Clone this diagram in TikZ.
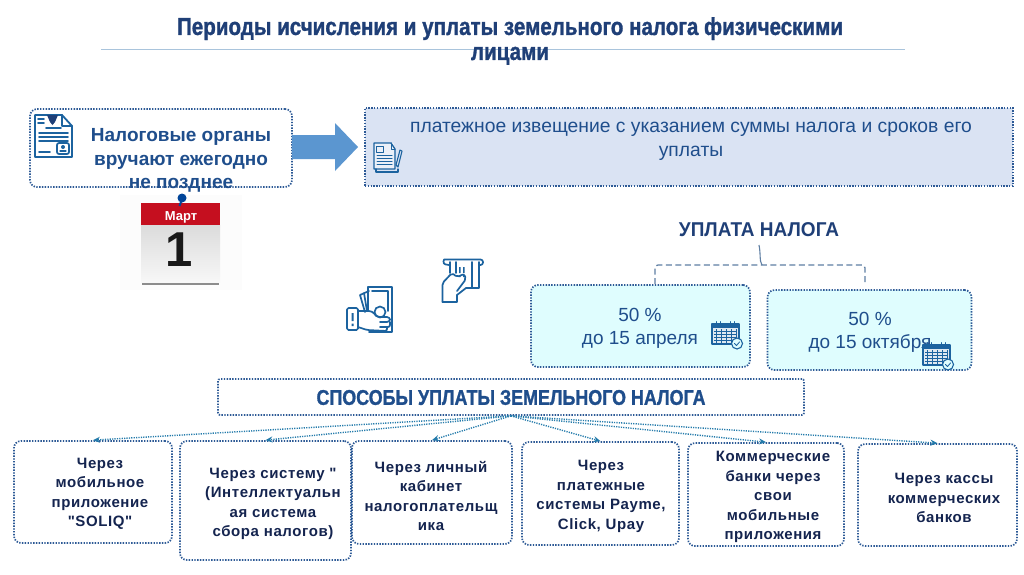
\documentclass[tikz,border=0pt]{standalone}
\usepackage{fontspec}
\setmainfont{Liberation Sans}
\newfontfamily\narrowfont[FakeStretch=0.84,FakeBold=1.2]{Liberation Sans}
\newfontfamily\slimfont[FakeStretch=0.95]{Liberation Sans}
\newfontfamily\widefont[LetterSpace=4]{Liberation Sans}
\definecolor{titleblue}{HTML}{1F3F77}
\definecolor{midblue}{HTML}{1F4E8C}
\definecolor{iconblue}{HTML}{1C639F}
\definecolor{dotblue}{HTML}{2D5A96}
\definecolor{navy}{HTML}{14244F}
\definecolor{paleblue}{HTML}{DAE3F3}
\definecolor{palecyan}{HTML}{DFFDFE}
\definecolor{arrowblue}{HTML}{5B96D0}
\definecolor{ruleblue}{HTML}{A9C4DC}
\definecolor{bracketblue}{HTML}{5F7FA3}
\definecolor{calred}{HTML}{C50F1F}
\tikzset{
  dotbox/.style={draw=dotblue,line width=1.7pt,dash pattern=on 1.4pt off 1.4pt,rounded corners=7pt,inner sep=0pt},
  squarebox/.style={draw=dotblue,line width=1.7pt,dash pattern=on 1.4pt off 1.4pt,inner sep=0pt},
  waytext/.style={align=center,inner sep=0pt,text=navy,font=\widefont\bfseries\fontsize{15}{19.5}\selectfont},
  paytext/.style={align=center,inner sep=0pt,text=midblue,font=\fontsize{19}{23.5}\selectfont},
  way/.style={draw=dotblue!80!cyan,line width=1.4pt,dash pattern=on 1.2pt off 1.2pt,-{Stealth[length=7pt,width=6pt]}},
  iconline/.style={draw=iconblue,line width=1.7pt,line join=round,line cap=round},
  calicon/.pic={
    \fill[white!65!iconblue!40] (1,3) rectangle (28,23);
    \draw[iconline,line width=1.3pt] (1,3) rectangle (28,23);
    \fill[iconblue] (1,3) rectangle (28,7);
    \draw[iconline,line width=.8pt] (5,0.5)--(5,3) (23,0.5)--(23,3) (9,0.5)--(9,3) (19,0.5)--(19,3);
    \foreach \gx in {5,10,15,20,25} \draw[iconblue,line width=.8pt] (\gx,8)--(\gx,22);
    \foreach \gy in {10,13,16,19} \draw[iconblue,line width=.8pt] (3,\gy)--(26,\gy);
    \draw[iconline,line width=1.1pt,fill=palecyan] (26,22.5) circle (5.5);
    \draw[iconline,line width=.8pt] (23.5,22.5)--(25.5,24.5)--(28.5,21);
  }
}
\usetikzlibrary{arrows.meta}
\begin{document}
\begin{tikzpicture}[x=1pt,y=-1pt]
\useasboundingbox (0,0) rectangle (1024,574);
\fill[white] (0,0) rectangle (1024,574);

% title
\draw[ruleblue,line width=.8pt] (101,49.5)--(905,49.5);
\node[inner sep=0pt,text=titleblue,align=center,font=\narrowfont\bfseries\fontsize{24.5}{25}\selectfont] (title) at (510,41) {Периоды исчисления и уплаты земельного налога физическими\\лицами};

% top row
\node[dotbox,minimum width=262pt,minimum height=78pt] (organ) at (161,148) {};
\node[squarebox,fill=paleblue,minimum width=648pt,minimum height=78pt] (notice) at (689,147) {};
\fill[arrowblue] (292,135)--(335,135)--(335,123)--(358,147)--(335,171)--(335,159)--(292,159)--cycle;
\node[inner sep=0pt,align=center,text=midblue,font=\bfseries\fontsize{19}{23.5}\selectfont] (organtext) at (181,160.5) {Налоговые органы\\вручают ежегодно\\не позднее};
\node[inner sep=0pt,align=center,text=midblue,font=\fontsize{19.3}{24}\selectfont] (noticetext) at (691,141) {платежное извещение с указанием суммы налога и сроков его\\уплаты};

% document icon
\begin{scope}[shift={(35,115)}]
  \draw[iconline,line width=1.8pt] (0,0)--(27,0)--(37,11)--(37,42)--(0,42)--cycle;
  \draw[iconline] (27,0)--(27,11)--(37,11);
  \fill[titleblue] (12,0)--(23,0)--(20,7)--(17.5,10)--(15,7)--cycle;
  \draw[iconline] (3,4)--(9,4) (3,8)--(9,8) (11,13)--(26,13) (4,18)--(33,18) (4,22)--(33,22) (4,26)--(33,26);
  \draw[iconline] (4,37)--(15,37);
  \draw[iconline,rounded corners=2pt] (22,28)rectangle(34,39);
  \fill[iconblue] (28,32) circle (2);
  \draw[iconline,line width=1.2pt] (25,36)--(31,36);
\end{scope}

% paper icon
\begin{scope}[shift={(374,143)}]
  \fill[white!45!paleblue] (0,0) rectangle (20,26);
  \draw[iconline,line width=1.3pt] (17,0)--(0,0)--(0,26)--(21,26)--(21,6)--cycle;
  \draw[iconline,line width=1pt] (17,0)--(17,6)--(21,6);
  \draw[iconline,line width=1pt] (2,3) rectangle (9,9);
  \draw[iconline,line width=1pt] (3,12)--(18,12) (3,15)--(18,15) (3,18)--(18,18) (3,21)--(18,21);
  \draw[iconline,line width=1.1pt] (2,26)--(2,29)--(24,29)--(24,26);
  \draw[iconline,line width=1.1pt] (26,7)--(22,22)--(24,24)--(28,8)--cycle;
\end{scope}

% calendar picture
\fill[black!1] (120,195) rectangle (242,290);
\fill[black!45] (142,281) rectangle (219,284.5);
\shade[top color=black!14,bottom color=black!3] (141,225) rectangle (220,282);
\fill[calred] (141,203) rectangle (220,225);
\fill[blue!55!cyan!60!black] (182,198) circle (4.5);
\draw[blue!55!cyan!60!black,line width=2pt] (182,199)--(179.5,206);
\node[inner sep=0pt,text=white,font=\bfseries\fontsize{13}{15}\selectfont] (month) at (181,217.5) {Март};
\node[inner sep=0pt,text=black!90,font=\bfseries\fontsize{49}{54}\selectfont] (day) at (179,250) {1};

% money hand icon
\begin{scope}[shift={(347,287)}]
  \draw[iconline] (13,8)--(22,4) (13,8)--(18,25);
  \draw[iconline] (17,6)--(20,24);
  \draw[iconline] (21,24)--(21,0)--(45,0)--(45,45)--(22,45);
  \draw[iconline] (25,4)--(41,4)--(41,24);
  \draw[iconline] (33,25) circle (5.5);
  \draw[iconline,rounded corners=1.5pt] (0,21) rectangle (11,43);
  \fill[iconblue] (4.5,26) rectangle (6.5,34) (4.5,36.5) rectangle (6.5,39);
  \draw[iconline,rounded corners=3pt] (11,24)--(25,24)--(30,30)--(43,30)--(43,35)--(33,35);
  \draw[iconline,rounded corners=2pt] (43,35)--(43,40)--(33,40) (40,40)--(40,44)--(20,43)--(11,40);
\end{scope}

% card hand icon
\begin{scope}[shift={(442,259)}]
  \draw[iconline,rounded corners=2.5pt] (2,0.5)--(41,0.5)--(41,6)--(37,6) (2,0.5)--(1,5)--(7,6);
  \draw[iconline] (8,3)--(8,14) (37,3)--(37,29)--(24,29);
  \draw[iconline] (14,3)--(14,14) (30,3)--(30,29);
  \fill[iconblue] (17,8) rectangle (18.5,14) (21,8) rectangle (22.5,14) (17,16) rectangle (18.5,18) (21,16) rectangle (22.5,18);
  \draw[iconline,rounded corners=2pt] (0.5,43)--(0.5,24)--(10,14)--(15,18)--(22,15)--(24,20)--(15,32);
  \draw[iconline] (0.5,43)--(15,43)--(15,36);
  \draw[iconline] (15,36)--(24,29);
\end{scope}

% payment part
\node[inner sep=0pt,text=titleblue,font=\slimfont\bfseries\fontsize{20}{22}\selectfont] (paytitle) at (759,230) {УПЛАТА НАЛОГА};
\node[dotbox,fill=palecyan,minimum width=219pt,minimum height=82pt] (pay1) at (640.5,326) {};
\node[dotbox,fill=palecyan,minimum width=204pt,minimum height=80pt] (pay2) at (869.5,330) {};
\node[paytext] (pay1text) at (640,328.5) {50 \%\\до 15 апреля};
\node[paytext] (pay2text) at (870,332.5) {50 \%\\до 15 октября};
\pic at (711,321) {calicon};
\pic at (922,342) {calicon};
\coordinate (brtop) at (759,245);
\coordinate (brright) at (865,285);
\draw[bracketblue,line width=1.3pt,dash pattern=on 6pt off 3.5pt,rounded corners=3pt] (pay1.north -| 655,0)--(655,265)--(865,265)--(brright);
\draw[bracketblue,line width=1.1pt] (brtop) .. controls (761,255) and (759,260) .. (762,265);

% ways
\node[squarebox,rounded corners=2pt,minimum width=586pt,minimum height=36pt] (ways) at (511,397) {};
\node[inner sep=0pt,text=midblue,font=\narrowfont\bfseries\fontsize{21.3}{23}\selectfont] (waystext) at (511,397.5) {СПОСОБЫ УПЛАТЫ ЗЕМЕЛЬНОГО НАЛОГА};

\node[dotbox,minimum width=158pt,minimum height=102pt] (b1) at (93,492) {};
\node[dotbox,minimum width=171pt,minimum height=119pt] (b2) at (265.5,500.5) {};
\node[dotbox,minimum width=160pt,minimum height=103pt] (b3) at (432,492.5) {};
\node[dotbox,minimum width=157pt,minimum height=103pt] (b4) at (600.5,493.5) {};
\node[dotbox,minimum width=156pt,minimum height=103pt] (b5) at (766,494.5) {};
\node[dotbox,minimum width=159pt,minimum height=102pt] (b6) at (937.5,495) {};

\foreach \target in {b1,b2,b3,b4,b5,b6} \draw[way] (ways.south) -- (\target.north);

\node[waytext] (t1) at (100,494) {Через\\мобильное\\приложение\\"SOLIQ"};
\node[waytext] (t2) at (273,504) {Через систему "\\(Интеллектуальн\\ая система\\сбора налогов)};
\node[waytext] (t3) at (431,496) {Через личный\\кабинет\\налогоплательщ\\ика};
\node[waytext] (t4) at (601,496.5) {Через\\платежные\\системы Payme,\\Click, Upay};
\node[waytext] (t5) at (773,497) {Коммерческие\\банки через\\свои\\мобильные\\приложения};
\node[waytext] (t6) at (944,498) {Через кассы\\коммерческих\\банков};
\end{tikzpicture}
\end{document}
